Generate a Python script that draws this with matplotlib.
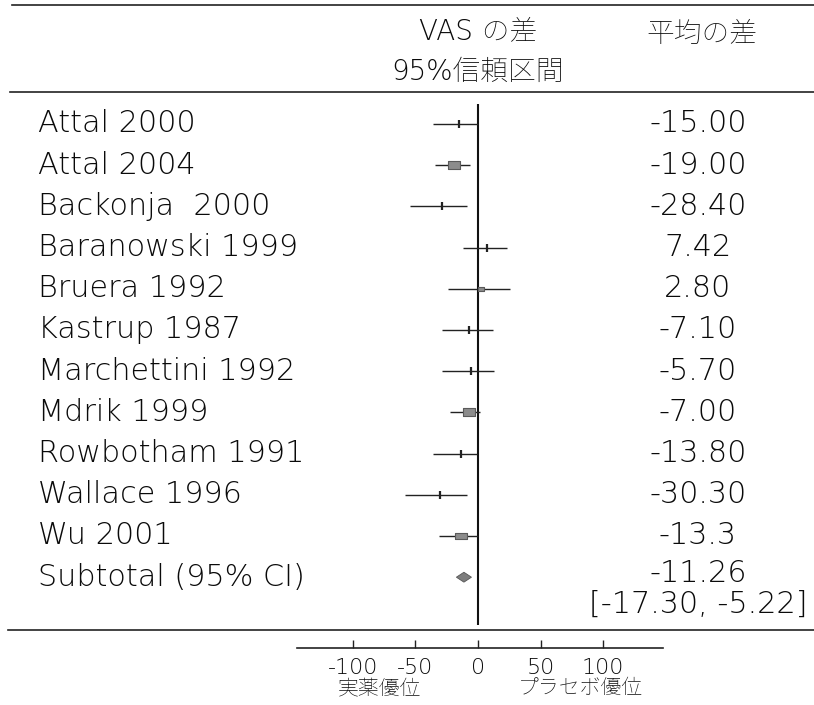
import matplotlib

matplotlib.use("Agg")
import matplotlib.pyplot as plt
import numpy as np
from matplotlib.lines import Line2D
from matplotlib.path import Path

plt.rcParams["font.family"] = ["DejaVu Sans", "Noto Sans CJK JP"]
plt.rcParams["font.weight"] = "ultralight"

# ---------------------------------------------------------------------------
# Data: mean VAS difference per study with 95% CI
# ---------------------------------------------------------------------------
studies = [
    "Attal 2000",
    "Attal 2004",
    "Backonja  2000",
    "Baranowski 1999",
    "Bruera 1992",
    "Kastrup 1987",
    "Marchettini 1992",
    "Mdrik 1999",
    "Rowbotham 1991",
    "Wallace 1996",
    "Wu 2001",
]
mean_labels = [
    "-15.00", "-19.00", "-28.40", "7.42", "2.80", "-7.10",
    "-5.70", "-7.00", "-13.80", "-30.30", "-13.3",
]
ci_low = [-36, -34, -54, -12, -24, -29, -29, -22, -36, -58, -31]
ci_high = [0, -6, -9, 23, 26, 12, 13, 2, -1, -9, 0]
weights = [2, 15, 2, 2, 4, 2, 2, 15, 2, 2, 13]

subtotal_label = "Subtotal (95% CI)"
subtotal_mean = "-11.26"
subtotal_ci = ("-17.30", "-5.22")

axis_ticks = [-100, -50, 0, 50, 100]

means = [float(s) for s in mean_labels]
sub_mean = float(subtotal_mean)
sub_lo, sub_hi = (float(s) for s in subtotal_ci)

# ---------------------------------------------------------------------------
# Layout (one axes spanning the whole figure, x in VAS units, y in rows)
# ---------------------------------------------------------------------------
W, H = 814, 705
ZERO_PX, PX_PER_UNIT = 478, 1.25
ROW0_PX, ROW_PX = 124, 41.2


def row_of(py):
    return (py - ROW0_PX) / ROW_PX


TEXT = "#0a0a0a"
FS = 21.8

fig = plt.figure(figsize=(W / 100, H / 100), dpi=100)
ax = fig.add_axes([0, 0, 1, 1])
ax.set_xlim(-ZERO_PX / PX_PER_UNIT, (W - ZERO_PX) / PX_PER_UNIT)
ax.set_ylim(row_of(H), row_of(0))
for side in ["top", "left", "right"]:
    ax.spines[side].set_visible(False)
ax.set_yticks([])

rows = np.arange(len(studies))
sub_row = len(studies)

# confidence intervals and point estimates
ax.hlines(rows, ci_low, ci_high, color="#222222", lw=1.0, zorder=2)
box = Path([(-1, -0.62), (1, -0.62), (1, 0.62), (-1, 0.62), (-1, -0.62)])
for r, m, w in zip(rows, means, weights):
    if w < 3:
        ax.plot(m, r, marker="|", ms=6, mew=1.6, color="#222222", zorder=3)
    else:
        ax.plot(m, r, marker=box, ms=2.2 * np.sqrt(w), mfc="#8c8c8c",
                mec="#5a5a5a", mew=0.8, zorder=3)

# pooled estimate diamond
dh = 0.12
ax.fill([sub_lo, sub_mean, sub_hi, sub_mean],
        [sub_row, sub_row - dh, sub_row, sub_row + dh],
        color="#7d7d7d", ec="#555555", lw=0.6, zorder=3)

# line of no effect
ax.vlines(0, row_of(104), row_of(625), color="#111111", lw=1.5, zorder=1)

# text columns
yt = ax.get_yaxis_transform()
for r, name, lab in zip(rows, studies, mean_labels):
    ax.text(38 / W, r, name, transform=yt, fontsize=FS, color=TEXT,
            ha="left", va="center")
    ax.text(698 / W, r, lab, transform=yt, fontsize=FS, color=TEXT,
            ha="center", va="center")
ax.text(38 / W, sub_row, subtotal_label, transform=yt, fontsize=FS,
        color=TEXT, ha="left", va="center")
ax.text(698 / W, row_of(573), subtotal_mean, transform=yt, fontsize=FS,
        color=TEXT, ha="center", va="center")
ax.text(698 / W, row_of(604), f"[{subtotal_ci[0]}, {subtotal_ci[1]}]",
        transform=yt, fontsize=FS, color=TEXT, ha="center", va="center")

# header
ax.text(0, row_of(31), "VAS の差", fontsize=20, color=TEXT,
        ha="center", va="center")
ax.text(0, row_of(72), "95%信頼区間", fontsize=20, color=TEXT,
        ha="center", va="center")
ax.text(702 / W, row_of(34), "平均の差", transform=yt, fontsize=20,
        color=TEXT, ha="center", va="center")

# separator rules
for py, x0 in [(5, 12), (92, 10), (630, 8)]:
    fig.add_artist(Line2D([x0 / W, 1], [1 - py / H, 1 - py / H],
                          color="#222222", lw=1.2))

# bottom scale
ax.spines["bottom"].set_position(("data", row_of(648)))
ax.spines["bottom"].set_bounds(-145, 148)
ax.spines["bottom"].set_linewidth(1.2)
ax.spines["bottom"].set_color("#222222")
ax.set_xticks(axis_ticks)
ax.set_xticklabels([str(t) for t in axis_ticks])
ax.tick_params(axis="x", direction="in", length=6, width=1.0,
               colors="#222222", labelsize=16, labelcolor=TEXT, pad=7)
ax.text(-79, row_of(688), "実薬優位", fontsize=15, color=TEXT,
        ha="center", va="center")
ax.text(82, row_of(688), "プラセボ優位", fontsize=15, color=TEXT,
        ha="center", va="center")

fig.savefig("out.png", dpi=100)
